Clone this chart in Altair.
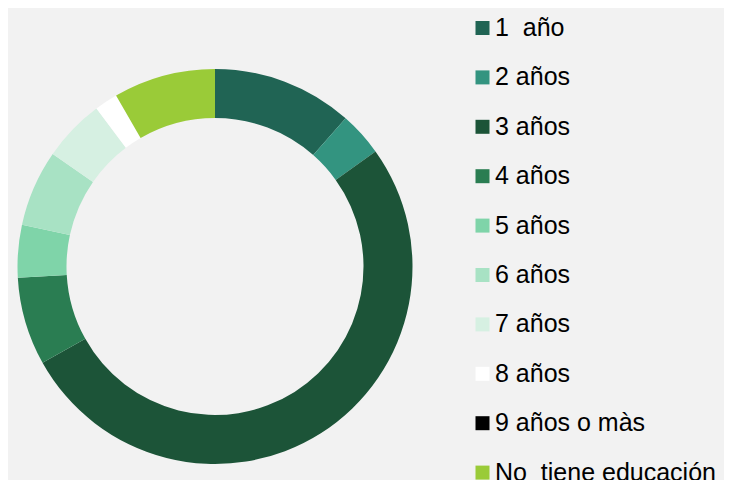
import altair as alt
import pandas as pd

categorias = ["1\u00a0\u00a0año", "2 años", "3 años", "4 años", "5 años", "6 años",
              "7 años", "8 años", "9 años o màs", "No\u00a0\u00a0tiene educación"]
porcentajes = [11.5, 3.6, 51.8, 7.2, 4.3, 6.25, 5.1, 1.9, 0.0, 8.35]
colores = ["#206454", "#339480", "#1c5438", "#2a7d52", "#7fd4a9", "#a8e2c4",
           "#d6f0e2", "#ffffff", "#000000", "#9acb38"]

df = pd.DataFrame({
    "categoria": categorias,
    "valor": porcentajes,
    "orden": list(range(len(categorias))),
})

chart = alt.Chart(df).mark_arc(
    innerRadius=148.5, outerRadius=197.5, strokeWidth=0
).encode(
    theta=alt.Theta("valor:Q", stack=True),
    order=alt.Order("orden:Q"),
    x=alt.value(207),
    y=alt.value(258.5),
    color=alt.Color(
        "categoria:N",
        scale=alt.Scale(domain=categorias, range=colores),
        sort=categorias,
        legend=alt.Legend(
            title=None,
            orient="none",
            legendX=462,
            legendY=7.5,
            symbolType="square",
            symbolSize=196,
            symbolStrokeWidth=0,
            labelFontSize=25,
            labelFont="Liberation Sans",
            labelColor="#000000",
            labelOffset=0,
            rowPadding=23.4,
            labelLimit=400,
        ),
    ),
).properties(
    width=716, height=464, padding=0, background="#f2f2f2"
).configure_view(stroke=None)

chart.save("out.html", embed_options={"renderer": "svg", "actions": False})
